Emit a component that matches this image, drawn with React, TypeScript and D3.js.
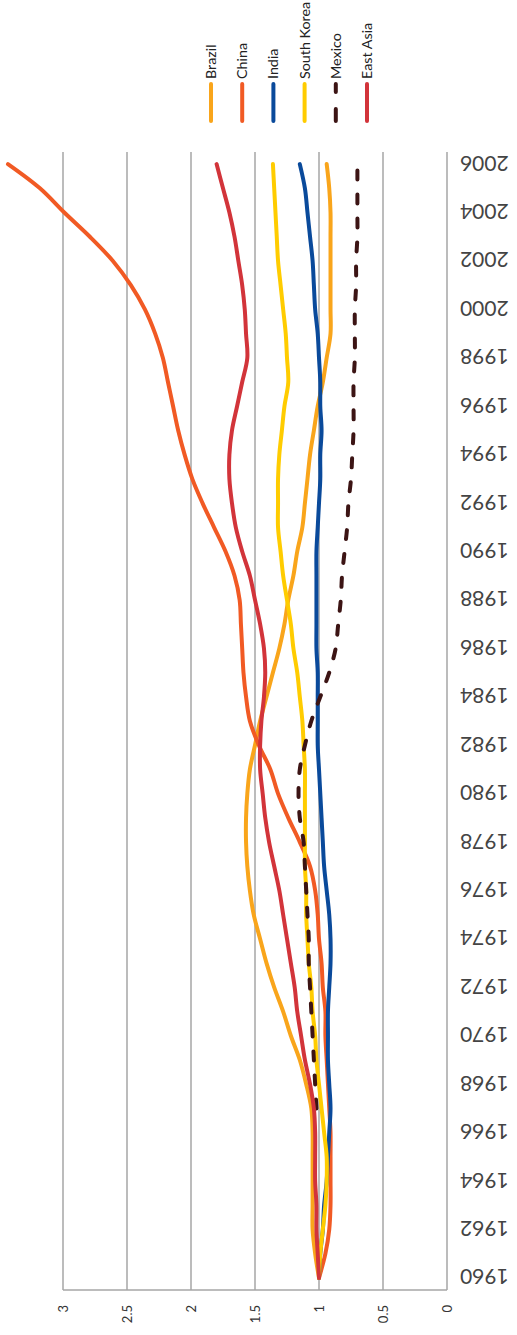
import * as d3 from "d3";

// Chart was drawn rotated 90° counter-clockwise: years run bottom→top, values right→left
const YEARS = d3.range(1960, 2007);
const TICK_VALUES = [0, 0.5, 1, 1.5, 2, 2.5, 3];

const BRAZIL = [1.0, 1.03, 1.05, 1.05, 1.05, 1.05, 1.05, 1.06, 1.1, 1.15, 1.22, 1.28, 1.35, 1.41, 1.46, 1.51, 1.54, 1.56, 1.57, 1.57, 1.56, 1.54, 1.5, 1.46, 1.41, 1.36, 1.31, 1.27, 1.24, 1.2, 1.17, 1.13, 1.11, 1.09, 1.07, 1.04, 1.01, 0.97, 0.94, 0.91, 0.91, 0.91, 0.91, 0.91, 0.91, 0.92, 0.94];
const CHINA = [1.0, 0.95, 0.92, 0.91, 0.91, 0.91, 0.91, 0.92, 0.93, 0.94, 0.95, 0.95, 0.97, 0.98, 1.0, 1.01, 1.03, 1.07, 1.15, 1.24, 1.32, 1.38, 1.47, 1.54, 1.57, 1.59, 1.6, 1.61, 1.62, 1.66, 1.73, 1.82, 1.91, 1.99, 2.05, 2.1, 2.14, 2.18, 2.22, 2.28, 2.36, 2.47, 2.61, 2.79, 2.99, 3.18, 3.43];
const INDIA = [1.0, 0.99, 0.97, 0.96, 0.94, 0.93, 0.92, 0.91, 0.92, 0.93, 0.93, 0.93, 0.92, 0.91, 0.91, 0.92, 0.94, 0.96, 0.97, 0.98, 0.99, 1.0, 1.01, 1.01, 1.01, 1.01, 1.02, 1.02, 1.02, 1.02, 1.02, 1.01, 1.0, 0.99, 0.99, 0.98, 0.99, 0.99, 1.0, 1.01, 1.03, 1.04, 1.05, 1.07, 1.09, 1.11, 1.15];
const SOUTH_KOREA = [1.0, 0.99, 0.97, 0.95, 0.94, 0.94, 0.96, 0.98, 1.0, 1.02, 1.03, 1.05, 1.06, 1.08, 1.09, 1.1, 1.1, 1.11, 1.11, 1.11, 1.11, 1.11, 1.12, 1.13, 1.15, 1.17, 1.2, 1.22, 1.25, 1.28, 1.3, 1.32, 1.32, 1.32, 1.31, 1.29, 1.27, 1.24, 1.25, 1.26, 1.28, 1.3, 1.32, 1.33, 1.34, 1.35, 1.36];
// Mexico only from 1967
const MEXICO = [null, null, null, null, null, null, null, 1.02, 1.03, 1.04, 1.05, 1.06, 1.07, 1.08, 1.08, 1.09, 1.1, 1.11, 1.12, 1.15, 1.16, 1.15, 1.11, 1.06, 0.99, 0.92, 0.87, 0.85, 0.83, 0.82, 0.8, 0.78, 0.77, 0.75, 0.74, 0.73, 0.73, 0.73, 0.72, 0.72, 0.72, 0.71, 0.71, 0.7, 0.7, 0.7, 0.7];
const EAST_ASIA = [1.0, 1.01, 1.02, 1.02, 1.03, 1.03, 1.03, 1.04, 1.07, 1.11, 1.14, 1.17, 1.19, 1.22, 1.25, 1.28, 1.31, 1.35, 1.39, 1.42, 1.44, 1.46, 1.46, 1.45, 1.43, 1.42, 1.43, 1.46, 1.5, 1.54, 1.6, 1.65, 1.68, 1.7, 1.7, 1.68, 1.64, 1.6, 1.56, 1.57, 1.58, 1.6, 1.63, 1.66, 1.7, 1.75, 1.8];

const SERIES = [
  { name: "Brazil", values: BRAZIL, color: "#f9a51b", dash: null },
  { name: "China", values: CHINA, color: "#f15a24", dash: null },
  { name: "India", values: INDIA, color: "#0a4a9b", dash: null },
  { name: "South Korea", values: SOUTH_KOREA, color: "#ffcc00", dash: null },
  { name: "Mexico", values: MEXICO, color: "#3c1414", dash: "9,15" },
  { name: "East Asia", values: EAST_ASIA, color: "#d2343a", dash: null },
];

const W = 517;
const H = 1335;
const FONT = "Lato, 'Open Sans', sans-serif";
const GRID = "#a6a6a6";

export default function App() {
  // value axis: horizontal, 0 on the right
  const x = d3.scaleLinear().domain([0, 3]).range([447, 63]);
  // category axis: vertical, 1960 at the bottom
  const y = d3.scaleBand<number>().domain(YEARS).range([1290, 152]);
  const cy = (yr: number) => (y(yr) ?? 0) + y.bandwidth() / 2;

  const line = d3
    .line<number | null>()
    .defined((d) => d !== null)
    .x((d) => x(d as number))
    .y((_d, i) => cy(YEARS[i]))
    .curve(d3.curveCatmullRom.alpha(0.5));

  const legendX = d3.scalePoint<string>().domain(SERIES.map((s) => s.name)).range([211, 367]);

  return (
    <svg
      width={W}
      height={H}
      style={{ position: "absolute", left: 0, top: 0, background: "#fff" }}
      fontFamily={FONT}
    >
      {/* gridlines */}
      {TICK_VALUES.map((v) => (
        <line key={v} x1={x(v)} x2={x(v)} y1={152} y2={1290} stroke={GRID} strokeWidth={1.5} />
      ))}
      <line x1={x(3)} x2={x(0)} y1={1290} y2={1290} stroke={GRID} strokeWidth={1.5} />

      {/* value labels */}
      {TICK_VALUES.map((v) => (
        <text
          key={v}
          transform={`translate(${x(v) + 4.5},1305) rotate(-90)`}
          textAnchor="end"
          fontSize={13}
          fill="#333"
        >
          {String(v)}
        </text>
      ))}

      {/* year labels, every other year */}
      {YEARS.filter((yr) => (yr - 1960) % 2 === 0).map((yr) => (
        <text
          key={yr}
          transform={`translate(460,${cy(yr)}) rotate(180)`}
          textAnchor="end"
          dominantBaseline="central"
          fontSize={21}
          fill="#444"
        >
          {yr}
        </text>
      ))}

      {/* series */}
      {SERIES.map((s) => (
        <path
          key={s.name}
          d={line(s.values) ?? ""}
          fill="none"
          stroke={s.color}
          strokeWidth={4}
          strokeLinecap="round"
          strokeLinejoin="round"
          strokeDasharray={s.dash ?? undefined}
        />
      ))}

      {/* legend */}
      {SERIES.map((s) => {
        const lx = legendX(s.name) ?? 0;
        return (
          <g key={s.name}>
            <line
              x1={lx}
              x2={lx}
              y1={121}
              y2={84}
              stroke={s.color}
              strokeWidth={4}
              strokeLinecap="round"
              strokeDasharray={s.dash ? "12,17" : undefined}
            />
            <text
              transform={`translate(${lx + 5},79) rotate(-90)`}
              fontSize={14.3}
              fill="#222"
            >
              {s.name}
            </text>
          </g>
        );
      })}
    </svg>
  );
}
